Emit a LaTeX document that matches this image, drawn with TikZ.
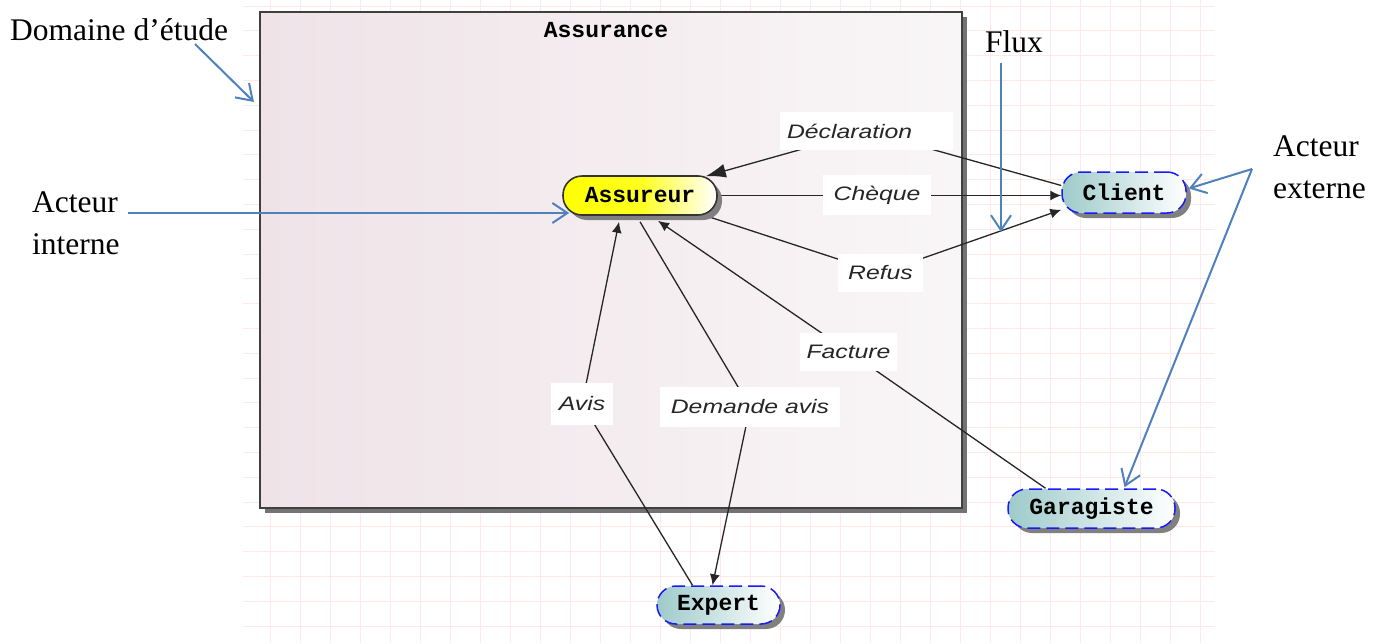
\documentclass[tikz,border=0pt]{standalone}
\usepackage{fontspec}
\usetikzlibrary{arrows.meta,shadows}
\newfontfamily\annfont{Liberation Serif}
\newfontfamily\labfont{Liberation Sans}
\newfontfamily\entfont{Liberation Mono}
\definecolor{gridpink}{RGB}{255,232,232}
\definecolor{boxA}{RGB}{239,227,232}
\definecolor{boxB}{RGB}{249,246,247}
\definecolor{tealA}{RGB}{158,202,202}
\definecolor{dashblue}{RGB}{25,25,250}
\definecolor{noteblue}{RGB}{79,129,189}
\newcommand\wideit[1]{\scalebox{1.27}[1]{#1}}
\pgfdeclarelayer{bg}
\pgfdeclarelayer{conn}
\pgfsetlayers{bg,conn,main}
\begin{document}
\begin{tikzpicture}[x=1pt,y=-1pt,
  actor/.style={rounded corners=19pt, inner sep=0pt, minimum height=39pt,
    font=\entfont\bfseries\fontsize{23}{23}\selectfont,
    drop shadow={shadow xshift=5pt, shadow yshift=-5pt, fill=black!50, opacity=1}},
  actint/.style={actor, draw=black!80, line width=1.6pt,
    left color=yellow, right color=white, middle color=yellow!88!white},
  actext/.style={actor, draw=dashblue, line width=1.5pt, dash pattern=on 13pt off 6pt,
    left color=tealA, right color=white},
  flowlab/.style={fill=white, inner sep=0pt, minimum height=38pt, text=black!85,
    font=\labfont\itshape\fontsize{19.5}{22}\selectfont},
  flow/.style={draw=black!85, line width=1.3pt},
  tipS/.style={-{Latex[length=11pt,width=10pt]}},
  tipL/.style={-{Latex[length=20pt,width=14pt]}},
  ann/.style={inner sep=0pt, font=\annfont\fontsize{31.5}{42}\selectfont},
  note/.style={draw=noteblue, line width=2pt,
    -{Straight Barb[length=15pt,width=20pt,line width=2pt]}}]
\useasboundingbox (0,0) rectangle (1378,643);

% squared paper behind the diagram
\begin{pgfonlayer}{bg}
  \fill[white] (0,0) rectangle (1378,643);
  \foreach \k in {0,...,31} \draw[gridpink, line width=1pt] (270+30*\k,0) -- (270+30*\k,643);
  \foreach \k in {0,...,25} \draw[gridpink, line width=1pt] (243,6+24.8*\k) -- (1215,6+24.8*\k);
  % study domain frame
  \node[draw=black!75, line width=2pt, left color=boxA, right color=boxB,
        minimum width=702pt, minimum height=496pt, inner sep=0pt,
        drop shadow={shadow xshift=5pt, shadow yshift=-5pt, fill=black!55, opacity=1}]
        (domaine) at (611,260) {};
\end{pgfonlayer}

\node[font=\entfont\bfseries\fontsize{23}{23}\selectfont, inner sep=0pt] (title) at (606,30) {Assurance};

% actors
\node[actint, minimum width=154pt] (assureur) at (640,195.5) {Assureur};
\node[actext, minimum width=124pt, minimum height=41pt] (client) at (1124,192.5) {Client};
\node[actext, minimum width=123pt, minimum height=38pt] (expert) at (718.5,605) {Expert};
\node[actext, minimum width=167pt] (garagiste) at (1091.5,508.5) {Garagiste};

% flow labels
\node[flowlab, text width=159pt, align=left, inner xsep=7pt] (lDecl) at (866.5,131) {\wideit{Déclaration}};
\node[flowlab, minimum width=108pt, minimum height=40pt] (lCheq) at (877,195) {\wideit{Chèque}};
\node[flowlab, minimum width=85pt] (lRefus) at (880.5,273) {\wideit{Refus}};
\node[flowlab, minimum width=97pt] (lFact) at (848.5,351.5) {\wideit{Facture}};
\node[flowlab, minimum width=62pt, minimum height=42pt] (lAvis) at (582,404) {\wideit{Avis}};
\node[flowlab, minimum width=180pt, minimum height=40pt] (lDem) at (750,407) {\wideit{Demande avis}};

% flows
\begin{pgfonlayer}{conn}
  \draw[flow, tipL] ([yshift=7pt]client.west) -- (lDecl.center) -- ([xshift=-12pt,yshift=-1pt]assureur.north east);
  \draw[flow, tipS] (assureur.east) -- (client.west |- assureur.east);
  \draw[flow, tipS] ([xshift=-12pt]assureur.south east) -- (lRefus.center) -- ([yshift=4pt]client.south west);
  \draw[flow, tipS] ([xshift=-46pt]garagiste.north) -- (lFact.center) -- ([xshift=18pt,yshift=-5pt]assureur.south);
  \draw[flow, tipS] ([xshift=-26pt]expert.north) -- (lAvis.center) -- ([xshift=-21pt,yshift=-6pt]assureur.south);
  \draw[flow, tipS] ([yshift=-6pt]assureur.south) -- (lDem.center) -- ([xshift=-6pt]expert.north);
\end{pgfonlayer}

% annotations
\node[ann, anchor=base west] (tDom) at (10,40) {Domaine d’étude};
\node[ann, anchor=base west] (tFlux) at (985,52) {Flux};
\node[ann, anchor=base west, align=left] (tInt) at (32,254) {Acteur\\interne};
\node[ann, anchor=base west, align=left] (tExt) at (1273,198) {Acteur\\externe};

\coordinate (domOut) at (195,44);
\coordinate (fluxOut) at (1001,63);
\coordinate (fluxTip) at (1001,232);
\coordinate (intOut) at (128,213);
\coordinate (extOut) at (1252,169);

\draw[note] (domOut) -- ([xshift=-5pt,yshift=-91pt]domaine.north west);
\draw[note] (fluxOut) -- (fluxTip);
\draw[note] (intOut) -- ([xshift=7pt,yshift=-17.5pt]assureur.west);
\draw[note] (extOut) -- ([xshift=2pt,yshift=4pt]client.east);
\draw[note] (extOut) -- ([xshift=33pt,yshift=1pt]garagiste.north);
\end{tikzpicture}
\end{document}
